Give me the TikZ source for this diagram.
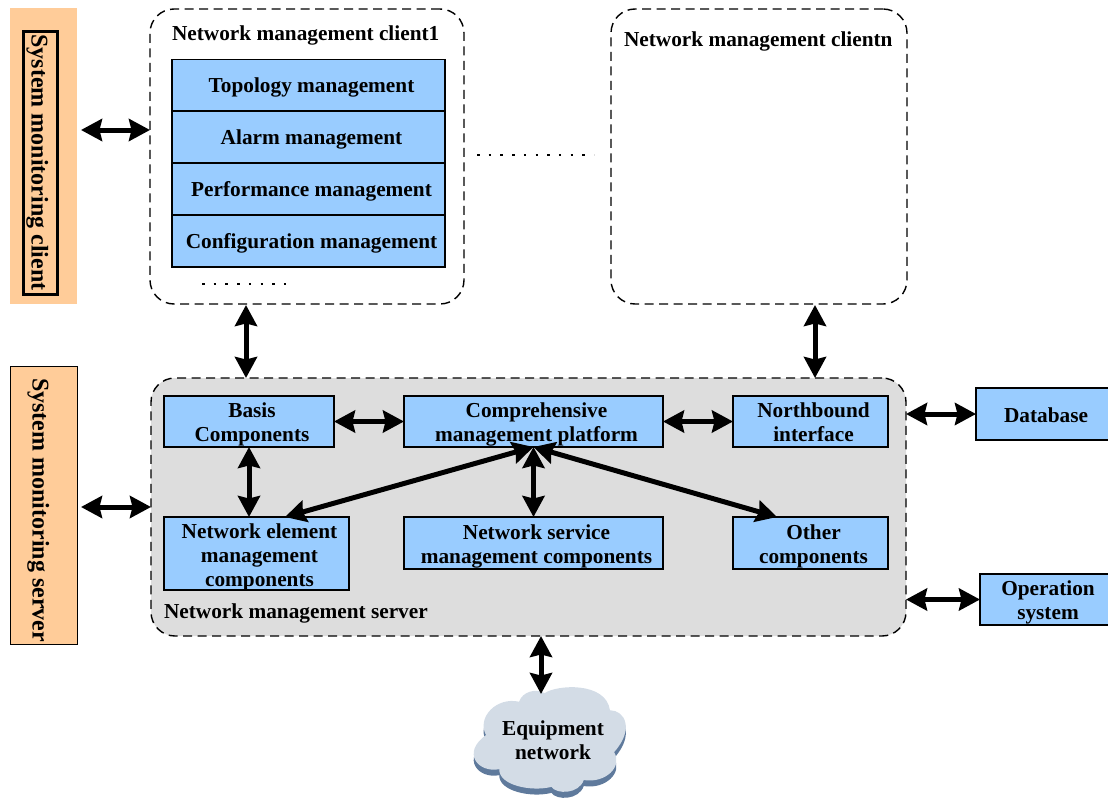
\documentclass[tikz,border=0pt]{standalone}
\usepackage{fontspec}
\setmainfont{Liberation Serif}
\usetikzlibrary{arrows.meta}
\definecolor{boxblue}{HTML}{99CCFF}
\definecolor{sideorange}{HTML}{FFCC99}
\definecolor{servergray}{HTML}{DDDDDD}
\definecolor{cloudfill}{HTML}{D3DCE6}
\definecolor{cloudshade}{HTML}{5F7A9C}
\tikzset{
  every node/.style={font=\fontsize{21.3}{24}\selectfont\bfseries,align=center,inner sep=0pt,outer sep=0pt,text depth=0pt},
  bluebox/.style={draw=black,line width=1.4pt,fill=boxblue},
  boxtext/.style={xshift=3pt},
  lowtext/.style={xshift=3pt,yshift=-1pt},
  sidebox/.style={fill=sideorange,minimum width=67pt},
  sidetext/.style={font=\fontsize{24}{26}\selectfont\bfseries,rotate=-90},
  groupbox/.style={draw=black,line width=1.4pt,dash pattern=on 9pt off 5.5pt,rounded corners=24pt},
  dots/.style={line width=2.5pt,dash pattern=on 2.5pt off 9.2pt},
  biarrow/.style={line width=5pt,{Stealth[length=21pt,width=22pt,inset=2.5pt]}-{Stealth[length=21pt,width=22pt,inset=2.5pt]}}
}
\newcommand{\cloudpath}{(235,190) .. controls (245,160) and (285,150) .. (310,165)
  .. controls (345,140) and (490,130) .. (502,215)
  .. controls (545,215) and (575,270) .. (514,338)
  .. controls (540,380) and (490,430) .. (425,420)
  .. controls (410,462) and (345,462) .. (330,440)
  .. controls (270,455) and (175,435) .. (177,388)
  .. controls (115,400) and (65,340) .. (138,288)
  .. controls (110,235) and (170,175) .. (235,190) -- cycle}
\begin{document}
\begin{tikzpicture}[x=1pt,y=-1pt]
\useasboundingbox (0,0) rectangle (1108,803);

% left side bars
\node[sidebox,minimum height=296pt] (sysclient) at (43.5,156) {};
\node[sidetext,draw=black,line width=3pt,minimum width=263pt,minimum height=34pt] (clienttext) at (40,162.5) {System monitoring client};
\node[sidebox,draw=black,line width=1pt,minimum height=278pt] (sysserver) at (43.5,505) {};
\node[sidetext] (servertext) at (41,510) {System monitoring server};

% client groups
\node[groupbox,minimum width=314pt,minimum height=295pt] (client1) at (307,156.5) {};
\node[groupbox,minimum width=296pt,minimum height=295pt] (clientn) at (759,156.5) {};
\node[anchor=west] (client1title) at (172,33) {Network management client1};
\node[anchor=west] (clientntitle) at (624,39) {Network management clientn};
\node[bluebox,minimum width=273pt,minimum height=52pt,label={[boxtext]center:Topology management}] (topology) at (308.5,85.5) {};
\node[bluebox,minimum width=273pt,minimum height=52pt,label={[boxtext]center:Alarm management}] (alarm) at (308.5,137) {};
\node[bluebox,minimum width=273pt,minimum height=52pt,label={[boxtext]center:Performance management}] (performance) at (308.5,189) {};
\node[bluebox,minimum width=273pt,minimum height=52pt,label={[boxtext]center:Configuration management}] (configuration) at (308.5,241) {};
\draw[dots] (202,284) -- (287,284);
\draw[dots] (477,155) -- (594,155);

% server group
\node[groupbox,fill=servergray,minimum width=755pt,minimum height=258pt] (server) at (528.5,507) {};
\node[anchor=west] (servertitle) at (164,611) {Network management server};
\node[bluebox,minimum width=170pt,minimum height=51pt,label={[lowtext]center:{Basis\\Components}}] (basis) at (249,421.5) {};
\node[bluebox,minimum width=259pt,minimum height=51pt,label={[lowtext]center:{Comprehensive\\management platform}}] (platform) at (533.5,421.5) {};
\node[bluebox,minimum width=155pt,minimum height=51pt,label={[lowtext]center:{Northbound\\interface}}] (northbound) at (810.5,421.5) {};
\node[bluebox,minimum width=185pt,minimum height=73pt,label={[lowtext,yshift=-1pt]center:{Network element\\management\\components}}] (element) at (256.5,553.5) {};
\node[bluebox,minimum width=259pt,minimum height=52pt,label={[lowtext]center:{Network service\\management components}}] (service) at (533.5,543) {};
\node[bluebox,minimum width=155pt,minimum height=52pt,label={[lowtext]center:{Other\\components}}] (other) at (810.5,543) {};

% outside boxes
\node[bluebox,minimum width=134pt,minimum height=52pt,label={[lowtext]center:Database}] (database) at (1043,414) {};
\node[bluebox,minimum width=130pt,minimum height=51pt,label={[lowtext]center:{Operation\\system}}] (operation) at (1045,599.5) {};

% cloud
\begin{scope}[shift={(439,637)},x=0.3406pt,y=-0.3406pt]
\fill[cloudshade,yshift=-6pt] \cloudpath;
\fill[cloudfill] \cloudpath;
\end{scope}
\node (cloud) at (553,740) {Equipment\\network};

% free ends of the arrows
\coordinate (clientleft) at (81,130);
\coordinate (serverleft) at (81,507);
\coordinate (clientdown) at (246,305);
\coordinate (clientndown) at (815,305);
\coordinate (elementtop) at (285,517);
\coordinate (othertop) at (777,517);
\coordinate (cloudtop) at (541,694);

% arrows
\draw[biarrow] (clientleft) -- (clientleft -| client1.west);
\draw[biarrow] (serverleft) -- (serverleft -| server.west);
\draw[biarrow] (clientdown) -- (clientdown |- server.north);
\draw[biarrow] (clientndown) -- (clientndown |- server.north);
\draw[biarrow] (basis.east) -- (platform.west);
\draw[biarrow] (platform.east) -- (northbound.west);
\draw[biarrow] (basis.south) -- (basis.south |- element.north);
\draw[biarrow] (platform.south) -- (service.north);
\draw[biarrow] (platform.south) -- (elementtop);
\draw[biarrow] (platform.south) -- (othertop);
\draw[biarrow] (server.east |- database.west) -- (database.west);
\draw[biarrow] (server.east |- operation.west) -- (operation.west);
\draw[biarrow] (cloudtop |- server.south) -- (cloudtop);
\end{tikzpicture}
\end{document}
